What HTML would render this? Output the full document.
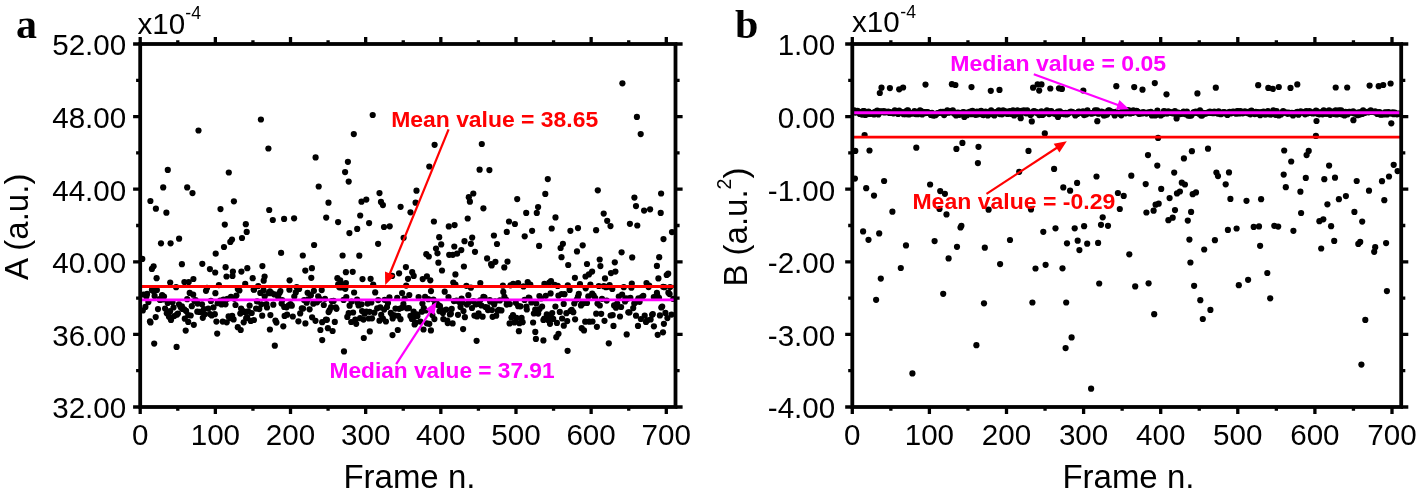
<!DOCTYPE html>
<html><head><meta charset="utf-8"><title>chart</title>
<style>html,body{margin:0;padding:0;background:#fff;}body{width:1419px;height:499px;overflow:hidden;}svg{display:block;will-change:transform;opacity:0.999;}text{font-family:"Liberation Sans",sans-serif;fill:#000;}.ser{font-family:"Liberation Serif",serif;font-weight:bold;}.tk{font-size:30.1px;}.ax{font-size:33px;}.an{font-size:22px;font-weight:bold;}</style>
</head><body>
<svg width="1419" height="499" viewBox="0 0 1419 499">
<rect x="0" y="0" width="1419" height="499" fill="#fff"/>
<clipPath id="ca"><rect x="140.2" y="44.0" width="535.3" height="363.0"/></clipPath>
<clipPath id="cb"><rect x="852.3" y="44.0" width="548.9" height="363.0"/></clipPath>
<g clip-path="url(#ca)"><g fill="#000"><circle cx="198.5" cy="130.5" r="3.10"/><circle cx="260.9" cy="119.5" r="3.10"/><circle cx="372.7" cy="115.0" r="3.10"/><circle cx="353.8" cy="134.1" r="3.10"/><circle cx="268.4" cy="148.5" r="3.10"/><circle cx="315.6" cy="157.4" r="3.10"/><circle cx="347.9" cy="161.8" r="3.10"/><circle cx="345.1" cy="172.1" r="3.10"/><circle cx="348.7" cy="181.6" r="3.10"/><circle cx="318.7" cy="186.5" r="3.10"/><circle cx="167.8" cy="169.9" r="3.10"/><circle cx="228.8" cy="172.5" r="3.10"/><circle cx="163.2" cy="187.4" r="3.10"/><circle cx="187.2" cy="187.4" r="3.10"/><circle cx="192.5" cy="193.1" r="3.10"/><circle cx="379.5" cy="193.1" r="3.10"/><circle cx="622.4" cy="83.3" r="3.10"/><circle cx="636.9" cy="116.9" r="3.10"/><circle cx="640.7" cy="134.1" r="3.10"/><circle cx="434.6" cy="144.8" r="3.10"/><circle cx="481.8" cy="144.0" r="3.10"/><circle cx="429.3" cy="166.5" r="3.10"/><circle cx="479.6" cy="169.7" r="3.10"/><circle cx="489.4" cy="170.1" r="3.10"/><circle cx="547.8" cy="179.1" r="3.10"/><circle cx="597.8" cy="190.3" r="3.10"/><circle cx="416.5" cy="190.7" r="3.10"/><circle cx="473.3" cy="193.5" r="3.10"/><circle cx="545.3" cy="193.9" r="3.10"/><circle cx="661.1" cy="193.5" r="3.10"/><circle cx="150.4" cy="201.0" r="3.10"/><circle cx="155.9" cy="208.7" r="3.10"/><circle cx="166.4" cy="212.7" r="3.10"/><circle cx="233.9" cy="201.3" r="3.10"/><circle cx="220.5" cy="209.1" r="3.10"/><circle cx="269.2" cy="210.0" r="3.10"/><circle cx="272.8" cy="220.0" r="3.10"/><circle cx="284.1" cy="218.9" r="3.10"/><circle cx="294.1" cy="218.3" r="3.10"/><circle cx="224.8" cy="224.6" r="3.10"/><circle cx="245.8" cy="224.2" r="3.10"/><circle cx="246.7" cy="231.9" r="3.10"/><circle cx="242.0" cy="238.0" r="3.10"/><circle cx="232.0" cy="239.5" r="3.10"/><circle cx="230.3" cy="241.9" r="3.10"/><circle cx="224.0" cy="247.0" r="3.10"/><circle cx="215.7" cy="253.6" r="3.10"/><circle cx="179.1" cy="238.7" r="3.10"/><circle cx="170.6" cy="243.3" r="3.10"/><circle cx="161.0" cy="243.3" r="3.10"/><circle cx="142.3" cy="258.9" r="3.10"/><circle cx="153.6" cy="266.3" r="3.10"/><circle cx="151.9" cy="268.9" r="3.10"/><circle cx="181.9" cy="264.2" r="3.10"/><circle cx="202.3" cy="263.8" r="3.10"/><circle cx="209.9" cy="269.1" r="3.10"/><circle cx="215.2" cy="272.5" r="3.10"/><circle cx="225.6" cy="267.2" r="3.10"/><circle cx="232.9" cy="271.6" r="3.10"/><circle cx="241.4" cy="271.6" r="3.10"/><circle cx="247.3" cy="268.2" r="3.10"/><circle cx="262.4" cy="266.1" r="3.10"/><circle cx="281.1" cy="252.9" r="3.10"/><circle cx="302.8" cy="255.5" r="3.10"/><circle cx="314.1" cy="245.0" r="3.10"/><circle cx="328.5" cy="202.7" r="3.10"/><circle cx="326.2" cy="217.6" r="3.10"/><circle cx="338.1" cy="222.1" r="3.10"/><circle cx="361.5" cy="201.7" r="3.10"/><circle cx="366.3" cy="199.6" r="3.10"/><circle cx="381.0" cy="201.9" r="3.10"/><circle cx="382.9" cy="205.1" r="3.10"/><circle cx="400.6" cy="206.8" r="3.10"/><circle cx="360.2" cy="215.5" r="3.10"/><circle cx="369.1" cy="223.1" r="3.10"/><circle cx="357.2" cy="228.9" r="3.10"/><circle cx="349.4" cy="233.1" r="3.10"/><circle cx="384.0" cy="227.0" r="3.10"/><circle cx="389.7" cy="226.3" r="3.10"/><circle cx="403.6" cy="237.8" r="3.10"/><circle cx="378.1" cy="243.8" r="3.10"/><circle cx="342.6" cy="255.5" r="3.10"/><circle cx="359.3" cy="255.7" r="3.10"/><circle cx="305.3" cy="270.6" r="3.10"/><circle cx="311.9" cy="268.2" r="3.10"/><circle cx="345.9" cy="272.2" r="3.10"/><circle cx="352.7" cy="271.8" r="3.10"/><circle cx="405.9" cy="267.1" r="3.10"/><circle cx="399.1" cy="273.3" r="3.10"/><circle cx="392.1" cy="275.9" r="3.10"/><circle cx="156.6" cy="278.2" r="3.10"/><circle cx="170.2" cy="282.5" r="3.10"/><circle cx="184.4" cy="282.0" r="3.10"/><circle cx="188.7" cy="282.0" r="3.10"/><circle cx="193.4" cy="279.0" r="3.10"/><circle cx="226.5" cy="276.5" r="3.10"/><circle cx="232.5" cy="275.9" r="3.10"/><circle cx="252.7" cy="278.2" r="3.10"/><circle cx="264.6" cy="276.5" r="3.10"/><circle cx="263.7" cy="280.7" r="3.10"/><circle cx="289.6" cy="280.3" r="3.10"/><circle cx="311.3" cy="277.8" r="3.10"/><circle cx="337.4" cy="278.2" r="3.10"/><circle cx="340.2" cy="280.3" r="3.10"/><circle cx="362.5" cy="279.1" r="3.10"/><circle cx="370.6" cy="278.8" r="3.10"/><circle cx="345.9" cy="283.1" r="3.10"/><circle cx="245.2" cy="283.9" r="3.10"/><circle cx="415.6" cy="202.7" r="3.10"/><circle cx="410.5" cy="212.3" r="3.10"/><circle cx="468.8" cy="197.2" r="3.10"/><circle cx="469.9" cy="201.7" r="3.10"/><circle cx="483.4" cy="208.3" r="3.10"/><circle cx="467.7" cy="218.5" r="3.10"/><circle cx="433.9" cy="221.5" r="3.10"/><circle cx="448.8" cy="226.4" r="3.10"/><circle cx="454.6" cy="225.1" r="3.10"/><circle cx="439.2" cy="237.2" r="3.10"/><circle cx="441.2" cy="244.4" r="3.10"/><circle cx="436.0" cy="248.5" r="3.10"/><circle cx="437.5" cy="253.3" r="3.10"/><circle cx="426.3" cy="254.2" r="3.10"/><circle cx="428.8" cy="256.5" r="3.10"/><circle cx="438.4" cy="262.7" r="3.10"/><circle cx="442.0" cy="270.5" r="3.10"/><circle cx="449.2" cy="254.8" r="3.10"/><circle cx="452.8" cy="254.8" r="3.10"/><circle cx="457.1" cy="253.6" r="3.10"/><circle cx="461.3" cy="250.1" r="3.10"/><circle cx="454.3" cy="246.5" r="3.10"/><circle cx="464.5" cy="241.2" r="3.10"/><circle cx="470.9" cy="243.8" r="3.10"/><circle cx="472.2" cy="237.6" r="3.10"/><circle cx="475.0" cy="251.8" r="3.10"/><circle cx="463.9" cy="266.5" r="3.10"/><circle cx="455.4" cy="274.4" r="3.10"/><circle cx="487.1" cy="258.4" r="3.10"/><circle cx="491.1" cy="264.0" r="3.10"/><circle cx="495.4" cy="261.8" r="3.10"/><circle cx="491.7" cy="265.5" r="3.10"/><circle cx="493.9" cy="235.5" r="3.10"/><circle cx="497.0" cy="244.0" r="3.10"/><circle cx="506.8" cy="231.9" r="3.10"/><circle cx="509.0" cy="221.5" r="3.10"/><circle cx="514.9" cy="224.0" r="3.10"/><circle cx="517.2" cy="199.1" r="3.10"/><circle cx="526.2" cy="212.9" r="3.10"/><circle cx="536.8" cy="212.9" r="3.10"/><circle cx="538.1" cy="207.0" r="3.10"/><circle cx="555.5" cy="217.4" r="3.10"/><circle cx="551.7" cy="228.5" r="3.10"/><circle cx="532.1" cy="230.8" r="3.10"/><circle cx="524.7" cy="236.3" r="3.10"/><circle cx="539.1" cy="245.9" r="3.10"/><circle cx="507.5" cy="261.6" r="3.10"/><circle cx="504.3" cy="267.4" r="3.10"/><circle cx="570.4" cy="230.8" r="3.10"/><circle cx="578.0" cy="228.1" r="3.10"/><circle cx="562.9" cy="243.8" r="3.10"/><circle cx="560.6" cy="248.0" r="3.10"/><circle cx="561.5" cy="257.2" r="3.10"/><circle cx="568.2" cy="265.0" r="3.10"/><circle cx="582.7" cy="245.3" r="3.10"/><circle cx="577.0" cy="251.4" r="3.10"/><circle cx="596.1" cy="230.2" r="3.10"/><circle cx="603.7" cy="213.6" r="3.10"/><circle cx="607.2" cy="220.8" r="3.10"/><circle cx="610.5" cy="226.1" r="3.10"/><circle cx="634.4" cy="197.6" r="3.10"/><circle cx="636.0" cy="206.1" r="3.10"/><circle cx="644.1" cy="210.6" r="3.10"/><circle cx="650.1" cy="209.3" r="3.10"/><circle cx="660.7" cy="212.9" r="3.10"/><circle cx="629.9" cy="223.8" r="3.10"/><circle cx="637.3" cy="225.5" r="3.10"/><circle cx="672.0" cy="232.1" r="3.10"/><circle cx="663.5" cy="239.1" r="3.10"/><circle cx="621.6" cy="252.3" r="3.10"/><circle cx="632.2" cy="257.4" r="3.10"/><circle cx="659.2" cy="257.2" r="3.10"/><circle cx="656.9" cy="265.9" r="3.10"/><circle cx="599.7" cy="259.5" r="3.10"/><circle cx="600.4" cy="266.1" r="3.10"/><circle cx="587.0" cy="264.0" r="3.10"/><circle cx="614.8" cy="262.3" r="3.10"/><circle cx="615.4" cy="271.6" r="3.10"/><circle cx="611.0" cy="273.1" r="3.10"/><circle cx="592.1" cy="271.6" r="3.10"/><circle cx="588.9" cy="274.4" r="3.10"/><circle cx="585.5" cy="276.5" r="3.10"/><circle cx="574.9" cy="277.8" r="3.10"/><circle cx="605.0" cy="278.4" r="3.10"/><circle cx="668.2" cy="273.7" r="3.10"/><circle cx="666.7" cy="275.0" r="3.10"/><circle cx="658.4" cy="278.4" r="3.10"/><circle cx="412.2" cy="272.2" r="3.10"/><circle cx="413.7" cy="275.9" r="3.10"/><circle cx="408.0" cy="278.8" r="3.10"/><circle cx="422.7" cy="279.1" r="3.10"/><circle cx="426.9" cy="276.3" r="3.10"/><circle cx="430.3" cy="280.3" r="3.10"/><circle cx="453.3" cy="282.5" r="3.10"/><circle cx="480.3" cy="283.1" r="3.10"/><circle cx="513.2" cy="283.9" r="3.10"/><circle cx="518.1" cy="283.1" r="3.10"/><circle cx="527.7" cy="282.0" r="3.10"/><circle cx="544.4" cy="283.9" r="3.10"/><circle cx="549.3" cy="282.5" r="3.10"/><circle cx="551.0" cy="281.0" r="3.10"/><circle cx="631.8" cy="283.5" r="3.10"/><circle cx="646.5" cy="283.1" r="3.10"/><circle cx="154.2" cy="343.6" r="3.10"/><circle cx="176.6" cy="346.9" r="3.10"/><circle cx="185.7" cy="330.6" r="3.10"/><circle cx="217.2" cy="333.6" r="3.10"/><circle cx="237.8" cy="327.2" r="3.10"/><circle cx="240.7" cy="330.0" r="3.10"/><circle cx="269.9" cy="329.5" r="3.10"/><circle cx="274.8" cy="345.7" r="3.10"/><circle cx="283.3" cy="326.3" r="3.10"/><circle cx="320.4" cy="330.0" r="3.10"/><circle cx="322.2" cy="340.1" r="3.10"/><circle cx="344.0" cy="351.4" r="3.10"/><circle cx="363.8" cy="338.0" r="3.10"/><circle cx="369.8" cy="331.4" r="3.10"/><circle cx="392.5" cy="335.1" r="3.10"/><circle cx="397.8" cy="330.0" r="3.10"/><circle cx="356.2" cy="323.8" r="3.10"/><circle cx="332.6" cy="331.0" r="3.10"/><circle cx="327.9" cy="328.2" r="3.10"/><circle cx="253.9" cy="320.0" r="3.10"/><circle cx="188.2" cy="321.9" r="3.10"/><circle cx="193.8" cy="324.8" r="3.10"/><circle cx="423.5" cy="329.5" r="3.10"/><circle cx="430.9" cy="330.4" r="3.10"/><circle cx="463.1" cy="329.1" r="3.10"/><circle cx="476.6" cy="340.8" r="3.10"/><circle cx="518.9" cy="331.2" r="3.10"/><circle cx="535.3" cy="331.9" r="3.10"/><circle cx="535.9" cy="338.9" r="3.10"/><circle cx="543.4" cy="340.4" r="3.10"/><circle cx="558.5" cy="333.8" r="3.10"/><circle cx="556.3" cy="337.2" r="3.10"/><circle cx="567.6" cy="350.8" r="3.10"/><circle cx="581.7" cy="328.2" r="3.10"/><circle cx="584.0" cy="330.4" r="3.10"/><circle cx="608.8" cy="343.3" r="3.10"/><circle cx="626.7" cy="334.4" r="3.10"/><circle cx="613.5" cy="325.9" r="3.10"/><circle cx="596.9" cy="326.8" r="3.10"/><circle cx="638.0" cy="325.9" r="3.10"/><circle cx="653.9" cy="326.3" r="3.10"/><circle cx="663.0" cy="332.3" r="3.10"/><circle cx="657.7" cy="334.8" r="3.10"/><circle cx="663.9" cy="323.8" r="3.10"/><circle cx="563.8" cy="325.7" r="3.10"/><circle cx="550.0" cy="323.8" r="3.10"/><circle cx="509.6" cy="323.4" r="3.10"/><circle cx="414.6" cy="324.4" r="3.10"/><circle cx="447.7" cy="323.1" r="3.10"/><circle cx="402.1" cy="293.1" r="3.10"/><circle cx="338.2" cy="284.3" r="3.10"/><circle cx="530.3" cy="284.6" r="3.10"/><circle cx="504.4" cy="296.9" r="3.10"/><circle cx="585.7" cy="288.3" r="3.10"/><circle cx="234.4" cy="298.8" r="3.10"/><circle cx="466.4" cy="285.8" r="3.10"/><circle cx="653.8" cy="297.0" r="3.10"/><circle cx="406.2" cy="285.6" r="3.10"/><circle cx="254.0" cy="289.7" r="3.10"/><circle cx="163.0" cy="299.5" r="3.10"/><circle cx="143.5" cy="294.5" r="3.10"/><circle cx="609.6" cy="285.2" r="3.10"/><circle cx="207.0" cy="287.9" r="3.10"/><circle cx="663.1" cy="286.8" r="3.10"/><circle cx="608.2" cy="286.7" r="3.10"/><circle cx="154.6" cy="295.9" r="3.10"/><circle cx="649.2" cy="285.5" r="3.10"/><circle cx="227.4" cy="298.8" r="3.10"/><circle cx="484.5" cy="297.3" r="3.10"/><circle cx="625.4" cy="298.4" r="3.10"/><circle cx="630.4" cy="297.8" r="3.10"/><circle cx="318.2" cy="296.4" r="3.10"/><circle cx="618.8" cy="296.6" r="3.10"/><circle cx="529.4" cy="298.2" r="3.10"/><circle cx="524.6" cy="299.9" r="3.10"/><circle cx="506.2" cy="299.9" r="3.10"/><circle cx="375.2" cy="292.4" r="3.10"/><circle cx="592.2" cy="293.7" r="3.10"/><circle cx="159.6" cy="299.0" r="3.10"/><circle cx="274.4" cy="294.4" r="3.10"/><circle cx="296.7" cy="287.2" r="3.10"/><circle cx="268.7" cy="293.2" r="3.10"/><circle cx="340.1" cy="284.4" r="3.10"/><circle cx="339.3" cy="287.3" r="3.10"/><circle cx="153.3" cy="290.9" r="3.10"/><circle cx="558.4" cy="295.7" r="3.10"/><circle cx="602.0" cy="298.8" r="3.10"/><circle cx="237.8" cy="289.0" r="3.10"/><circle cx="638.4" cy="298.3" r="3.10"/><circle cx="648.6" cy="287.1" r="3.10"/><circle cx="263.6" cy="290.3" r="3.10"/><circle cx="389.4" cy="297.3" r="3.10"/><circle cx="147.1" cy="293.9" r="3.10"/><circle cx="564.5" cy="294.2" r="3.10"/><circle cx="343.1" cy="284.8" r="3.10"/><circle cx="354.1" cy="292.5" r="3.10"/><circle cx="590.4" cy="284.7" r="3.10"/><circle cx="593.7" cy="295.6" r="3.10"/><circle cx="310.9" cy="295.2" r="3.10"/><circle cx="215.4" cy="293.2" r="3.10"/><circle cx="271.6" cy="293.2" r="3.10"/><circle cx="641.9" cy="297.0" r="3.10"/><circle cx="657.2" cy="294.9" r="3.10"/><circle cx="343.6" cy="299.9" r="3.10"/><circle cx="655.4" cy="297.4" r="3.10"/><circle cx="307.6" cy="292.8" r="3.10"/><circle cx="239.4" cy="290.5" r="3.10"/><circle cx="523.5" cy="286.4" r="3.10"/><circle cx="539.4" cy="296.1" r="3.10"/><circle cx="461.6" cy="298.5" r="3.10"/><circle cx="313.9" cy="290.8" r="3.10"/><circle cx="176.1" cy="287.2" r="3.10"/><circle cx="431.0" cy="291.1" r="3.10"/><circle cx="631.4" cy="287.7" r="3.10"/><circle cx="260.3" cy="292.9" r="3.10"/><circle cx="623.8" cy="287.2" r="3.10"/><circle cx="341.5" cy="287.4" r="3.10"/><circle cx="258.2" cy="286.1" r="3.10"/><circle cx="151.9" cy="289.9" r="3.10"/><circle cx="384.6" cy="299.8" r="3.10"/><circle cx="236.4" cy="295.5" r="3.10"/><circle cx="606.0" cy="287.2" r="3.10"/><circle cx="280.4" cy="291.1" r="3.10"/><circle cx="156.9" cy="290.1" r="3.10"/><circle cx="304.1" cy="300.0" r="3.10"/><circle cx="299.1" cy="288.9" r="3.10"/><circle cx="668.4" cy="292.7" r="3.10"/><circle cx="433.4" cy="299.5" r="3.10"/><circle cx="418.6" cy="297.1" r="3.10"/><circle cx="577.9" cy="296.9" r="3.10"/><circle cx="659.0" cy="297.8" r="3.10"/><circle cx="373.2" cy="284.5" r="3.10"/><circle cx="468.4" cy="295.2" r="3.10"/><circle cx="321.7" cy="290.1" r="3.10"/><circle cx="269.9" cy="291.3" r="3.10"/><circle cx="308.2" cy="299.3" r="3.10"/><circle cx="278.2" cy="297.1" r="3.10"/><circle cx="588.3" cy="296.4" r="3.10"/><circle cx="160.0" cy="299.9" r="3.10"/><circle cx="425.1" cy="296.9" r="3.10"/><circle cx="569.6" cy="289.9" r="3.10"/><circle cx="164.0" cy="296.6" r="3.10"/><circle cx="578.8" cy="293.9" r="3.10"/><circle cx="319.5" cy="298.9" r="3.10"/><circle cx="397.2" cy="297.9" r="3.10"/><circle cx="567.8" cy="285.3" r="3.10"/><circle cx="561.6" cy="294.0" r="3.10"/><circle cx="455.4" cy="284.6" r="3.10"/><circle cx="483.4" cy="296.9" r="3.10"/><circle cx="218.9" cy="285.1" r="3.10"/><circle cx="503.3" cy="291.9" r="3.10"/><circle cx="656.9" cy="292.9" r="3.10"/><circle cx="627.4" cy="298.7" r="3.10"/><circle cx="279.5" cy="293.1" r="3.10"/><circle cx="289.4" cy="289.7" r="3.10"/><circle cx="598.8" cy="286.0" r="3.10"/><circle cx="319.8" cy="299.8" r="3.10"/><circle cx="550.6" cy="293.4" r="3.10"/><circle cx="264.7" cy="296.4" r="3.10"/><circle cx="643.3" cy="295.8" r="3.10"/><circle cx="670.1" cy="287.1" r="3.10"/><circle cx="345.3" cy="288.8" r="3.10"/><circle cx="673.3" cy="298.9" r="3.10"/><circle cx="253.7" cy="289.5" r="3.10"/><circle cx="294.3" cy="296.6" r="3.10"/><circle cx="162.1" cy="295.0" r="3.10"/><circle cx="444.7" cy="291.7" r="3.10"/><circle cx="622.1" cy="294.5" r="3.10"/><circle cx="223.5" cy="299.6" r="3.10"/><circle cx="664.5" cy="287.2" r="3.10"/><circle cx="510.5" cy="285.3" r="3.10"/><circle cx="231.0" cy="296.9" r="3.10"/><circle cx="595.2" cy="298.0" r="3.10"/><circle cx="554.6" cy="284.9" r="3.10"/><circle cx="470.9" cy="287.7" r="3.10"/><circle cx="502.9" cy="285.7" r="3.10"/><circle cx="295.8" cy="292.4" r="3.10"/><circle cx="576.8" cy="299.6" r="3.10"/><circle cx="669.6" cy="294.1" r="3.10"/><circle cx="206.0" cy="290.8" r="3.10"/><circle cx="357.1" cy="299.6" r="3.10"/><circle cx="325.0" cy="298.8" r="3.10"/><circle cx="545.8" cy="295.8" r="3.10"/><circle cx="612.3" cy="289.0" r="3.10"/><circle cx="346.3" cy="297.0" r="3.10"/><circle cx="146.4" cy="296.4" r="3.10"/><circle cx="409.3" cy="295.0" r="3.10"/><circle cx="541.0" cy="298.4" r="3.10"/><circle cx="557.7" cy="285.9" r="3.10"/><circle cx="528.7" cy="297.6" r="3.10"/><circle cx="580.0" cy="284.1" r="3.10"/><circle cx="404.6" cy="298.6" r="3.10"/><circle cx="428.3" cy="299.2" r="3.10"/><circle cx="187.2" cy="299.2" r="3.10"/><circle cx="448.5" cy="297.1" r="3.10"/><circle cx="603.8" cy="286.2" r="3.10"/><circle cx="193.2" cy="294.7" r="3.10"/><circle cx="189.7" cy="292.9" r="3.10"/><circle cx="331.8" cy="301.1" r="3.10"/><circle cx="372.0" cy="318.3" r="3.10"/><circle cx="612.7" cy="315.1" r="3.10"/><circle cx="261.4" cy="304.3" r="3.10"/><circle cx="169.0" cy="316.7" r="3.10"/><circle cx="511.4" cy="317.6" r="3.10"/><circle cx="644.7" cy="315.7" r="3.10"/><circle cx="195.6" cy="300.0" r="3.10"/><circle cx="556.9" cy="322.9" r="3.10"/><circle cx="443.3" cy="319.1" r="3.10"/><circle cx="259.3" cy="309.1" r="3.10"/><circle cx="522.6" cy="322.2" r="3.10"/><circle cx="423.8" cy="308.0" r="3.10"/><circle cx="596.2" cy="313.7" r="3.10"/><circle cx="589.3" cy="321.7" r="3.10"/><circle cx="475.6" cy="304.4" r="3.10"/><circle cx="469.1" cy="302.0" r="3.10"/><circle cx="329.6" cy="310.2" r="3.10"/><circle cx="425.6" cy="310.5" r="3.10"/><circle cx="408.9" cy="308.1" r="3.10"/><circle cx="610.6" cy="315.5" r="3.10"/><circle cx="202.0" cy="304.3" r="3.10"/><circle cx="358.6" cy="305.4" r="3.10"/><circle cx="369.6" cy="311.8" r="3.10"/><circle cx="421.8" cy="311.7" r="3.10"/><circle cx="456.5" cy="300.6" r="3.10"/><circle cx="559.8" cy="311.9" r="3.10"/><circle cx="390.8" cy="312.9" r="3.10"/><circle cx="247.2" cy="317.0" r="3.10"/><circle cx="640.9" cy="319.0" r="3.10"/><circle cx="438.3" cy="305.2" r="3.10"/><circle cx="583.3" cy="303.3" r="3.10"/><circle cx="413.6" cy="311.6" r="3.10"/><circle cx="387.0" cy="306.9" r="3.10"/><circle cx="392.7" cy="318.4" r="3.10"/><circle cx="284.2" cy="306.9" r="3.10"/><circle cx="226.7" cy="322.3" r="3.10"/><circle cx="363.5" cy="319.6" r="3.10"/><circle cx="150.5" cy="322.4" r="3.10"/><circle cx="662.2" cy="306.6" r="3.10"/><circle cx="388.0" cy="303.0" r="3.10"/><circle cx="518.2" cy="306.2" r="3.10"/><circle cx="414.0" cy="316.9" r="3.10"/><circle cx="449.9" cy="314.4" r="3.10"/><circle cx="210.9" cy="300.9" r="3.10"/><circle cx="417.5" cy="316.1" r="3.10"/><circle cx="262.2" cy="315.7" r="3.10"/><circle cx="214.8" cy="314.2" r="3.10"/><circle cx="606.7" cy="300.6" r="3.10"/><circle cx="400.5" cy="319.2" r="3.10"/><circle cx="325.9" cy="319.7" r="3.10"/><circle cx="385.9" cy="321.5" r="3.10"/><circle cx="599.8" cy="305.5" r="3.10"/><circle cx="566.4" cy="313.2" r="3.10"/><circle cx="292.8" cy="316.5" r="3.10"/><circle cx="377.2" cy="308.3" r="3.10"/><circle cx="543.4" cy="320.0" r="3.10"/><circle cx="303.1" cy="308.6" r="3.10"/><circle cx="210.0" cy="314.0" r="3.10"/><circle cx="533.1" cy="322.5" r="3.10"/><circle cx="249.6" cy="305.6" r="3.10"/><circle cx="495.1" cy="301.4" r="3.10"/><circle cx="435.0" cy="304.3" r="3.10"/><circle cx="535.2" cy="309.7" r="3.10"/><circle cx="519.4" cy="323.2" r="3.10"/><circle cx="351.6" cy="301.5" r="3.10"/><circle cx="629.4" cy="312.4" r="3.10"/><circle cx="335.7" cy="307.3" r="3.10"/><circle cx="442.9" cy="313.1" r="3.10"/><circle cx="459.3" cy="302.1" r="3.10"/><circle cx="498.8" cy="309.9" r="3.10"/><circle cx="536.3" cy="303.5" r="3.10"/><circle cx="306.6" cy="302.7" r="3.10"/><circle cx="349.6" cy="305.7" r="3.10"/><circle cx="604.5" cy="320.8" r="3.10"/><circle cx="585.2" cy="321.7" r="3.10"/><circle cx="301.8" cy="308.3" r="3.10"/><circle cx="452.6" cy="323.4" r="3.10"/><circle cx="148.4" cy="302.1" r="3.10"/><circle cx="298.4" cy="321.3" r="3.10"/><circle cx="513.0" cy="315.2" r="3.10"/><circle cx="538.2" cy="313.6" r="3.10"/><circle cx="501.4" cy="310.4" r="3.10"/><circle cx="542.1" cy="306.5" r="3.10"/><circle cx="221.6" cy="304.5" r="3.10"/><circle cx="617.2" cy="303.6" r="3.10"/><circle cx="244.7" cy="311.9" r="3.10"/><circle cx="367.6" cy="303.6" r="3.10"/><circle cx="453.9" cy="301.1" r="3.10"/><circle cx="446.2" cy="309.6" r="3.10"/><circle cx="167.7" cy="302.9" r="3.10"/><circle cx="235.5" cy="305.0" r="3.10"/><circle cx="650.6" cy="319.5" r="3.10"/><circle cx="286.6" cy="307.3" r="3.10"/><circle cx="548.0" cy="319.9" r="3.10"/><circle cx="581.9" cy="303.6" r="3.10"/><circle cx="647.4" cy="320.3" r="3.10"/><circle cx="659.9" cy="315.4" r="3.10"/><circle cx="480.2" cy="300.3" r="3.10"/><circle cx="284.6" cy="315.9" r="3.10"/><circle cx="555.4" cy="306.5" r="3.10"/><circle cx="323.8" cy="305.0" r="3.10"/><circle cx="246.2" cy="318.2" r="3.10"/><circle cx="429.3" cy="323.8" r="3.10"/><circle cx="477.1" cy="316.5" r="3.10"/><circle cx="333.6" cy="300.9" r="3.10"/><circle cx="232.2" cy="315.8" r="3.10"/><circle cx="368.8" cy="318.5" r="3.10"/><circle cx="460.5" cy="307.1" r="3.10"/><circle cx="184.8" cy="318.7" r="3.10"/><circle cx="158.0" cy="309.1" r="3.10"/><circle cx="361.6" cy="304.3" r="3.10"/><circle cx="202.8" cy="317.8" r="3.10"/><circle cx="638.0" cy="300.7" r="3.10"/><circle cx="142.8" cy="310.5" r="3.10"/><circle cx="614.1" cy="305.4" r="3.10"/><circle cx="173.5" cy="307.5" r="3.10"/><circle cx="616.0" cy="307.7" r="3.10"/><circle cx="208.3" cy="308.6" r="3.10"/><circle cx="240.3" cy="313.6" r="3.10"/><circle cx="406.9" cy="308.3" r="3.10"/><circle cx="267.0" cy="307.5" r="3.10"/><circle cx="182.3" cy="308.9" r="3.10"/><circle cx="257.0" cy="301.4" r="3.10"/><circle cx="539.6" cy="309.0" r="3.10"/><circle cx="526.4" cy="306.6" r="3.10"/><circle cx="432.4" cy="315.0" r="3.10"/><circle cx="204.8" cy="314.3" r="3.10"/><circle cx="379.5" cy="320.7" r="3.10"/><circle cx="382.9" cy="318.6" r="3.10"/><circle cx="516.4" cy="317.9" r="3.10"/><circle cx="515.8" cy="302.8" r="3.10"/><circle cx="546.8" cy="314.3" r="3.10"/><circle cx="174.2" cy="316.1" r="3.10"/><circle cx="451.7" cy="308.9" r="3.10"/><circle cx="217.7" cy="303.2" r="3.10"/><circle cx="334.8" cy="321.9" r="3.10"/><circle cx="364.6" cy="313.7" r="3.10"/><circle cx="463.5" cy="311.1" r="3.10"/><circle cx="567.2" cy="321.1" r="3.10"/><circle cx="230.3" cy="318.2" r="3.10"/><circle cx="145.4" cy="306.9" r="3.10"/><circle cx="312.1" cy="317.3" r="3.10"/><circle cx="300.2" cy="313.4" r="3.10"/><circle cx="251.7" cy="313.0" r="3.10"/><circle cx="434.4" cy="319.1" r="3.10"/><circle cx="150.0" cy="321.3" r="3.10"/><circle cx="282.2" cy="300.0" r="3.10"/><circle cx="497.7" cy="310.8" r="3.10"/><circle cx="496.2" cy="315.7" r="3.10"/><circle cx="248.1" cy="311.4" r="3.10"/><circle cx="191.8" cy="306.2" r="3.10"/><circle cx="563.7" cy="303.9" r="3.10"/><circle cx="281.6" cy="303.6" r="3.10"/><circle cx="371.3" cy="302.4" r="3.10"/><circle cx="357.5" cy="302.6" r="3.10"/><circle cx="392.3" cy="315.2" r="3.10"/><circle cx="506.7" cy="304.6" r="3.10"/><circle cx="571.7" cy="309.8" r="3.10"/><circle cx="401.8" cy="307.8" r="3.10"/><circle cx="225.5" cy="304.3" r="3.10"/><circle cx="309.6" cy="309.3" r="3.10"/><circle cx="473.4" cy="301.0" r="3.10"/><circle cx="384.2" cy="309.6" r="3.10"/><circle cx="574.3" cy="303.5" r="3.10"/><circle cx="243.0" cy="311.2" r="3.10"/><circle cx="581.0" cy="305.4" r="3.10"/><circle cx="549.8" cy="315.6" r="3.10"/><circle cx="378.2" cy="300.1" r="3.10"/><circle cx="633.2" cy="308.1" r="3.10"/><circle cx="290.5" cy="304.0" r="3.10"/><circle cx="220.2" cy="300.7" r="3.10"/><circle cx="573.3" cy="312.2" r="3.10"/><circle cx="273.3" cy="304.7" r="3.10"/><circle cx="601.2" cy="313.8" r="3.10"/><circle cx="439.5" cy="311.2" r="3.10"/><circle cx="211.7" cy="315.4" r="3.10"/><circle cx="509.8" cy="304.1" r="3.10"/><circle cx="243.7" cy="322.3" r="3.10"/><circle cx="355.3" cy="319.6" r="3.10"/><circle cx="420.4" cy="321.6" r="3.10"/><circle cx="155.7" cy="317.1" r="3.10"/><circle cx="351.2" cy="322.0" r="3.10"/><circle cx="374.4" cy="312.7" r="3.10"/><circle cx="313.3" cy="303.7" r="3.10"/><circle cx="410.4" cy="315.9" r="3.10"/><circle cx="635.7" cy="301.9" r="3.10"/><circle cx="531.4" cy="302.5" r="3.10"/><circle cx="328.6" cy="312.1" r="3.10"/><circle cx="665.4" cy="312.9" r="3.10"/><circle cx="181.9" cy="306.4" r="3.10"/><circle cx="426.8" cy="323.3" r="3.10"/><circle cx="305.4" cy="323.4" r="3.10"/><circle cx="197.6" cy="303.6" r="3.10"/><circle cx="652.1" cy="314.8" r="3.10"/><circle cx="416.8" cy="314.4" r="3.10"/><circle cx="490.3" cy="301.7" r="3.10"/><circle cx="597.5" cy="303.6" r="3.10"/><circle cx="499.9" cy="300.4" r="3.10"/><circle cx="353.1" cy="312.5" r="3.10"/><circle cx="347.3" cy="316.9" r="3.10"/><circle cx="592.5" cy="321.5" r="3.10"/><circle cx="487.5" cy="307.6" r="3.10"/><circle cx="628.3" cy="312.3" r="3.10"/><circle cx="188.2" cy="315.1" r="3.10"/><circle cx="544.3" cy="318.6" r="3.10"/><circle cx="166.8" cy="313.3" r="3.10"/><circle cx="395.5" cy="308.6" r="3.10"/><circle cx="436.6" cy="303.2" r="3.10"/><circle cx="671.5" cy="314.6" r="3.10"/><circle cx="575.1" cy="319.3" r="3.10"/><circle cx="241.1" cy="308.7" r="3.10"/><circle cx="625.0" cy="301.4" r="3.10"/><circle cx="450.9" cy="313.8" r="3.10"/><circle cx="621.1" cy="307.0" r="3.10"/><circle cx="667.4" cy="318.1" r="3.10"/><circle cx="508.1" cy="303.6" r="3.10"/><circle cx="315.5" cy="320.8" r="3.10"/><circle cx="411.9" cy="319.0" r="3.10"/><circle cx="348.7" cy="313.2" r="3.10"/><circle cx="440.0" cy="306.1" r="3.10"/><circle cx="458.0" cy="314.8" r="3.10"/><circle cx="587.0" cy="303.0" r="3.10"/><circle cx="488.0" cy="310.1" r="3.10"/><circle cx="190.7" cy="315.5" r="3.10"/><circle cx="288.7" cy="305.3" r="3.10"/><circle cx="562.1" cy="318.5" r="3.10"/><circle cx="615.3" cy="305.7" r="3.10"/><circle cx="291.8" cy="305.7" r="3.10"/><circle cx="322.2" cy="322.2" r="3.10"/><circle cx="360.1" cy="318.2" r="3.10"/><circle cx="415.7" cy="322.7" r="3.10"/><circle cx="634.3" cy="303.4" r="3.10"/><circle cx="422.4" cy="303.6" r="3.10"/><circle cx="331.1" cy="307.0" r="3.10"/><circle cx="399.2" cy="308.8" r="3.10"/><circle cx="462.6" cy="302.5" r="3.10"/><circle cx="552.2" cy="313.0" r="3.10"/><circle cx="441.6" cy="310.0" r="3.10"/><circle cx="266.4" cy="304.0" r="3.10"/><circle cx="514.4" cy="322.5" r="3.10"/><circle cx="646.0" cy="321.9" r="3.10"/><circle cx="481.4" cy="305.5" r="3.10"/><circle cx="180.7" cy="307.3" r="3.10"/><circle cx="570.4" cy="311.0" r="3.10"/><circle cx="472.0" cy="308.0" r="3.10"/><circle cx="200.8" cy="311.8" r="3.10"/><circle cx="366.4" cy="311.5" r="3.10"/><circle cx="256.1" cy="308.6" r="3.10"/><circle cx="526.8" cy="309.5" r="3.10"/><circle cx="620.0" cy="316.5" r="3.10"/><circle cx="491.9" cy="310.1" r="3.10"/><circle cx="204.0" cy="309.0" r="3.10"/><circle cx="250.8" cy="320.9" r="3.10"/><circle cx="553.2" cy="318.9" r="3.10"/><circle cx="478.6" cy="313.3" r="3.10"/><circle cx="326.9" cy="319.8" r="3.10"/><circle cx="485.5" cy="307.0" r="3.10"/><circle cx="213.5" cy="307.4" r="3.10"/><circle cx="466.9" cy="304.6" r="3.10"/><circle cx="228.6" cy="316.4" r="3.10"/><circle cx="652.8" cy="314.0" r="3.10"/><circle cx="317.0" cy="302.3" r="3.10"/><circle cx="222.7" cy="321.6" r="3.10"/><circle cx="478.3" cy="304.0" r="3.10"/><circle cx="170.1" cy="311.2" r="3.10"/><circle cx="275.4" cy="320.5" r="3.10"/><circle cx="172.5" cy="302.2" r="3.10"/><circle cx="381.2" cy="314.9" r="3.10"/><circle cx="494.2" cy="304.4" r="3.10"/><circle cx="489.8" cy="300.0" r="3.10"/><circle cx="179.0" cy="304.3" r="3.10"/><circle cx="661.3" cy="307.5" r="3.10"/><circle cx="520.5" cy="306.3" r="3.10"/><circle cx="521.6" cy="317.9" r="3.10"/><circle cx="276.4" cy="322.6" r="3.10"/><circle cx="216.4" cy="321.6" r="3.10"/><circle cx="482.6" cy="316.7" r="3.10"/><circle cx="639.6" cy="301.8" r="3.10"/><circle cx="177.9" cy="313.6" r="3.10"/><circle cx="398.2" cy="315.8" r="3.10"/><circle cx="474.4" cy="315.6" r="3.10"/><circle cx="197.3" cy="311.7" r="3.10"/><circle cx="287.1" cy="314.7" r="3.10"/><circle cx="184.2" cy="309.3" r="3.10"/><circle cx="394.4" cy="315.4" r="3.10"/><circle cx="403.4" cy="304.1" r="3.10"/><circle cx="194.5" cy="301.0" r="3.10"/><circle cx="165.1" cy="308.6" r="3.10"/><circle cx="270.4" cy="315.1" r="3.10"/><circle cx="447.3" cy="320.5" r="3.10"/><circle cx="176.8" cy="314.7" r="3.10"/><circle cx="492.6" cy="316.8" r="3.10"/><circle cx="362.1" cy="311.1" r="3.10"/><circle cx="199.6" cy="311.9" r="3.10"/><circle cx="464.9" cy="317.2" r="3.10"/><circle cx="636.0" cy="315.7" r="3.10"/><circle cx="186.1" cy="310.9" r="3.10"/><circle cx="171.0" cy="319.9" r="3.10"/><circle cx="533.9" cy="313.5" r="3.10"/><circle cx="380.3" cy="307.4" r="3.10"/><circle cx="233.6" cy="319.4" r="3.10"/><circle cx="336.5" cy="308.8" r="3.10"/></g></g>
<g clip-path="url(#cb)"><g fill="#000"><circle cx="881.5" cy="87.7" r="3.10"/><circle cx="879.8" cy="93.0" r="3.10"/><circle cx="889.9" cy="88.1" r="3.10"/><circle cx="899.2" cy="89.3" r="3.10"/><circle cx="903.1" cy="87.5" r="3.10"/><circle cx="925.5" cy="84.6" r="3.10"/><circle cx="951.9" cy="84.2" r="3.10"/><circle cx="955.4" cy="85.0" r="3.10"/><circle cx="971.5" cy="87.1" r="3.10"/><circle cx="990.8" cy="90.8" r="3.10"/><circle cx="999.5" cy="89.9" r="3.10"/><circle cx="1033.1" cy="87.7" r="3.10"/><circle cx="1037.6" cy="84.4" r="3.10"/><circle cx="1041.5" cy="84.4" r="3.10"/><circle cx="1039.2" cy="90.6" r="3.10"/><circle cx="1050.3" cy="88.5" r="3.10"/><circle cx="1059.0" cy="88.3" r="3.10"/><circle cx="1061.9" cy="88.9" r="3.10"/><circle cx="1083.3" cy="90.5" r="3.10"/><circle cx="1116.3" cy="86.2" r="3.10"/><circle cx="1020.7" cy="118.2" r="3.10"/><circle cx="1031.8" cy="121.4" r="3.10"/><circle cx="1097.3" cy="121.2" r="3.10"/><circle cx="1058.0" cy="116.9" r="3.10"/><circle cx="964.3" cy="116.9" r="3.10"/><circle cx="864.6" cy="135.0" r="3.10"/><circle cx="1044.8" cy="133.4" r="3.10"/><circle cx="1134.2" cy="87.1" r="3.10"/><circle cx="1142.5" cy="89.7" r="3.10"/><circle cx="1154.8" cy="83.1" r="3.10"/><circle cx="1166.5" cy="94.3" r="3.10"/><circle cx="1197.4" cy="93.4" r="3.10"/><circle cx="1215.8" cy="87.7" r="3.10"/><circle cx="1258.2" cy="85.2" r="3.10"/><circle cx="1268.3" cy="87.9" r="3.10"/><circle cx="1272.8" cy="88.9" r="3.10"/><circle cx="1278.8" cy="87.0" r="3.10"/><circle cx="1290.5" cy="87.9" r="3.10"/><circle cx="1297.3" cy="84.4" r="3.10"/><circle cx="1335.7" cy="87.5" r="3.10"/><circle cx="1347.2" cy="87.5" r="3.10"/><circle cx="1369.6" cy="85.6" r="3.10"/><circle cx="1378.7" cy="86.2" r="3.10"/><circle cx="1383.2" cy="85.0" r="3.10"/><circle cx="1390.6" cy="83.5" r="3.10"/><circle cx="1176.6" cy="118.4" r="3.10"/><circle cx="1316.5" cy="121.0" r="3.10"/><circle cx="1353.4" cy="120.2" r="3.10"/><circle cx="1391.3" cy="123.3" r="3.10"/><circle cx="1158.1" cy="137.9" r="3.10"/><circle cx="1315.9" cy="135.9" r="3.10"/><circle cx="855.3" cy="150.9" r="3.10"/><circle cx="869.5" cy="150.5" r="3.10"/><circle cx="916.3" cy="147.7" r="3.10"/><circle cx="956.4" cy="148.9" r="3.10"/><circle cx="962.4" cy="142.9" r="3.10"/><circle cx="978.5" cy="146.8" r="3.10"/><circle cx="977.9" cy="163.1" r="3.10"/><circle cx="1028.5" cy="150.9" r="3.10"/><circle cx="1019.2" cy="171.8" r="3.10"/><circle cx="1054.1" cy="168.9" r="3.10"/><circle cx="854.9" cy="178.6" r="3.10"/><circle cx="884.1" cy="181.0" r="3.10"/><circle cx="866.2" cy="188.2" r="3.10"/><circle cx="874.0" cy="195.6" r="3.10"/><circle cx="892.4" cy="211.7" r="3.10"/><circle cx="930.1" cy="184.5" r="3.10"/><circle cx="940.2" cy="191.1" r="3.10"/><circle cx="944.9" cy="193.8" r="3.10"/><circle cx="939.5" cy="209.0" r="3.10"/><circle cx="946.5" cy="214.4" r="3.10"/><circle cx="988.6" cy="209.7" r="3.10"/><circle cx="1031.0" cy="209.4" r="3.10"/><circle cx="1063.3" cy="187.4" r="3.10"/><circle cx="1070.1" cy="190.7" r="3.10"/><circle cx="1077.1" cy="182.9" r="3.10"/><circle cx="1096.5" cy="176.5" r="3.10"/><circle cx="1117.9" cy="193.0" r="3.10"/><circle cx="1123.7" cy="195.9" r="3.10"/><circle cx="1119.8" cy="209.0" r="3.10"/><circle cx="1102.7" cy="217.3" r="3.10"/><circle cx="1148.0" cy="155.1" r="3.10"/><circle cx="1157.3" cy="165.6" r="3.10"/><circle cx="1131.3" cy="175.7" r="3.10"/><circle cx="1145.7" cy="184.1" r="3.10"/><circle cx="1161.2" cy="188.9" r="3.10"/><circle cx="1174.2" cy="172.6" r="3.10"/><circle cx="1183.9" cy="158.4" r="3.10"/><circle cx="1191.9" cy="151.2" r="3.10"/><circle cx="1208.0" cy="148.7" r="3.10"/><circle cx="1181.8" cy="182.7" r="3.10"/><circle cx="1184.9" cy="184.5" r="3.10"/><circle cx="1179.9" cy="191.5" r="3.10"/><circle cx="1177.0" cy="193.4" r="3.10"/><circle cx="1196.0" cy="192.4" r="3.10"/><circle cx="1192.7" cy="194.2" r="3.10"/><circle cx="1169.6" cy="198.1" r="3.10"/><circle cx="1158.7" cy="203.7" r="3.10"/><circle cx="1155.6" cy="204.7" r="3.10"/><circle cx="1153.6" cy="210.7" r="3.10"/><circle cx="1146.4" cy="212.5" r="3.10"/><circle cx="1175.0" cy="210.1" r="3.10"/><circle cx="1191.1" cy="211.9" r="3.10"/><circle cx="1172.7" cy="217.7" r="3.10"/><circle cx="1168.4" cy="220.2" r="3.10"/><circle cx="1187.8" cy="220.6" r="3.10"/><circle cx="1216.4" cy="172.6" r="3.10"/><circle cx="1218.0" cy="176.1" r="3.10"/><circle cx="1229.0" cy="172.4" r="3.10"/><circle cx="1225.7" cy="184.3" r="3.10"/><circle cx="1230.4" cy="198.9" r="3.10"/><circle cx="1246.5" cy="200.8" r="3.10"/><circle cx="1261.1" cy="199.2" r="3.10"/><circle cx="1284.2" cy="150.5" r="3.10"/><circle cx="1291.2" cy="161.5" r="3.10"/><circle cx="1283.7" cy="174.6" r="3.10"/><circle cx="1285.8" cy="187.2" r="3.10"/><circle cx="1308.7" cy="150.9" r="3.10"/><circle cx="1306.6" cy="155.1" r="3.10"/><circle cx="1305.8" cy="177.9" r="3.10"/><circle cx="1300.4" cy="191.7" r="3.10"/><circle cx="1301.1" cy="213.0" r="3.10"/><circle cx="1329.1" cy="165.6" r="3.10"/><circle cx="1324.3" cy="179.2" r="3.10"/><circle cx="1335.0" cy="177.7" r="3.10"/><circle cx="1327.4" cy="204.3" r="3.10"/><circle cx="1338.9" cy="199.2" r="3.10"/><circle cx="1345.9" cy="196.1" r="3.10"/><circle cx="1356.7" cy="181.0" r="3.10"/><circle cx="1354.4" cy="211.9" r="3.10"/><circle cx="1369.0" cy="190.7" r="3.10"/><circle cx="1382.0" cy="181.2" r="3.10"/><circle cx="1389.0" cy="176.5" r="3.10"/><circle cx="1393.7" cy="164.8" r="3.10"/><circle cx="1397.6" cy="171.1" r="3.10"/><circle cx="1384.3" cy="200.2" r="3.10"/><circle cx="1323.3" cy="219.3" r="3.10"/><circle cx="1319.4" cy="221.2" r="3.10"/><circle cx="1362.2" cy="221.6" r="3.10"/><circle cx="863.1" cy="231.4" r="3.10"/><circle cx="868.5" cy="239.8" r="3.10"/><circle cx="879.2" cy="233.4" r="3.10"/><circle cx="906.0" cy="245.4" r="3.10"/><circle cx="900.8" cy="268.0" r="3.10"/><circle cx="880.8" cy="278.6" r="3.10"/><circle cx="876.1" cy="299.8" r="3.10"/><circle cx="934.6" cy="241.1" r="3.10"/><circle cx="948.6" cy="258.4" r="3.10"/><circle cx="943.2" cy="293.8" r="3.10"/><circle cx="957.0" cy="246.8" r="3.10"/><circle cx="961.4" cy="225.8" r="3.10"/><circle cx="960.5" cy="227.5" r="3.10"/><circle cx="984.8" cy="247.7" r="3.10"/><circle cx="1000.1" cy="264.1" r="3.10"/><circle cx="1010.0" cy="240.0" r="3.10"/><circle cx="984.0" cy="303.3" r="3.10"/><circle cx="1032.4" cy="302.5" r="3.10"/><circle cx="1035.5" cy="268.5" r="3.10"/><circle cx="1045.6" cy="264.8" r="3.10"/><circle cx="1043.3" cy="231.8" r="3.10"/><circle cx="1055.5" cy="228.3" r="3.10"/><circle cx="1062.5" cy="268.3" r="3.10"/><circle cx="1066.2" cy="302.5" r="3.10"/><circle cx="1067.0" cy="243.3" r="3.10"/><circle cx="1074.7" cy="228.3" r="3.10"/><circle cx="1077.7" cy="240.7" r="3.10"/><circle cx="1079.4" cy="250.1" r="3.10"/><circle cx="1084.1" cy="226.2" r="3.10"/><circle cx="1087.2" cy="243.7" r="3.10"/><circle cx="1098.1" cy="242.9" r="3.10"/><circle cx="1101.0" cy="224.8" r="3.10"/><circle cx="1108.0" cy="225.8" r="3.10"/><circle cx="1099.2" cy="283.5" r="3.10"/><circle cx="1189.4" cy="239.6" r="3.10"/><circle cx="1190.4" cy="262.5" r="3.10"/><circle cx="1194.1" cy="285.8" r="3.10"/><circle cx="1200.3" cy="300.2" r="3.10"/><circle cx="1210.4" cy="309.9" r="3.10"/><circle cx="1154.2" cy="314.2" r="3.10"/><circle cx="1135.2" cy="286.4" r="3.10"/><circle cx="1148.6" cy="283.3" r="3.10"/><circle cx="1129.3" cy="254.3" r="3.10"/><circle cx="1204.2" cy="249.5" r="3.10"/><circle cx="1214.9" cy="240.2" r="3.10"/><circle cx="1227.9" cy="229.9" r="3.10"/><circle cx="1236.6" cy="228.5" r="3.10"/><circle cx="1253.7" cy="226.9" r="3.10"/><circle cx="1259.0" cy="226.4" r="3.10"/><circle cx="1274.3" cy="225.8" r="3.10"/><circle cx="1278.2" cy="226.6" r="3.10"/><circle cx="1293.4" cy="230.8" r="3.10"/><circle cx="1260.1" cy="245.8" r="3.10"/><circle cx="1267.3" cy="273.0" r="3.10"/><circle cx="1248.1" cy="279.8" r="3.10"/><circle cx="1238.8" cy="285.2" r="3.10"/><circle cx="1270.2" cy="298.3" r="3.10"/><circle cx="1331.1" cy="226.2" r="3.10"/><circle cx="1334.2" cy="240.9" r="3.10"/><circle cx="1321.2" cy="248.5" r="3.10"/><circle cx="1360.2" cy="241.9" r="3.10"/><circle cx="1358.3" cy="243.9" r="3.10"/><circle cx="1375.2" cy="247.2" r="3.10"/><circle cx="1374.2" cy="251.8" r="3.10"/><circle cx="1386.1" cy="243.1" r="3.10"/><circle cx="1386.9" cy="291.1" r="3.10"/><circle cx="912.4" cy="373.4" r="3.10"/><circle cx="976.4" cy="345.2" r="3.10"/><circle cx="1071.6" cy="337.4" r="3.10"/><circle cx="1065.6" cy="348.1" r="3.10"/><circle cx="1091.1" cy="388.7" r="3.10"/><circle cx="1202.8" cy="319.0" r="3.10"/><circle cx="1365.3" cy="319.9" r="3.10"/><circle cx="1361.4" cy="364.6" r="3.10"/><circle cx="854.3" cy="110.4" r="3.10"/><circle cx="855.4" cy="112.6" r="3.10"/><circle cx="856.5" cy="111.4" r="3.10"/><circle cx="857.6" cy="110.8" r="3.10"/><circle cx="858.7" cy="112.2" r="3.10"/><circle cx="859.8" cy="113.9" r="3.10"/><circle cx="860.9" cy="112.2" r="3.10"/><circle cx="862.0" cy="114.6" r="3.10"/><circle cx="863.1" cy="111.2" r="3.10"/><circle cx="864.2" cy="111.0" r="3.10"/><circle cx="865.3" cy="115.0" r="3.10"/><circle cx="866.4" cy="113.4" r="3.10"/><circle cx="867.5" cy="114.1" r="3.10"/><circle cx="868.6" cy="111.6" r="3.10"/><circle cx="869.7" cy="113.9" r="3.10"/><circle cx="870.8" cy="113.2" r="3.10"/><circle cx="871.9" cy="113.7" r="3.10"/><circle cx="872.9" cy="112.8" r="3.10"/><circle cx="874.0" cy="114.5" r="3.10"/><circle cx="875.1" cy="111.9" r="3.10"/><circle cx="876.2" cy="111.5" r="3.10"/><circle cx="877.3" cy="110.7" r="3.10"/><circle cx="878.4" cy="114.4" r="3.10"/><circle cx="879.5" cy="111.8" r="3.10"/><circle cx="880.6" cy="111.3" r="3.10"/><circle cx="881.7" cy="111.5" r="3.10"/><circle cx="882.8" cy="112.2" r="3.10"/><circle cx="883.9" cy="111.0" r="3.10"/><circle cx="885.0" cy="112.4" r="3.10"/><circle cx="886.1" cy="111.9" r="3.10"/><circle cx="887.2" cy="112.0" r="3.10"/><circle cx="888.3" cy="111.5" r="3.10"/><circle cx="889.4" cy="112.9" r="3.10"/><circle cx="890.4" cy="112.2" r="3.10"/><circle cx="891.5" cy="113.0" r="3.10"/><circle cx="892.6" cy="113.1" r="3.10"/><circle cx="893.7" cy="113.3" r="3.10"/><circle cx="894.8" cy="110.4" r="3.10"/><circle cx="895.9" cy="112.1" r="3.10"/><circle cx="897.0" cy="111.7" r="3.10"/><circle cx="898.1" cy="113.9" r="3.10"/><circle cx="899.2" cy="110.6" r="3.10"/><circle cx="900.3" cy="111.8" r="3.10"/><circle cx="901.4" cy="112.4" r="3.10"/><circle cx="902.5" cy="112.3" r="3.10"/><circle cx="903.6" cy="114.2" r="3.10"/><circle cx="904.7" cy="112.2" r="3.10"/><circle cx="905.8" cy="114.2" r="3.10"/><circle cx="906.9" cy="110.7" r="3.10"/><circle cx="908.0" cy="110.4" r="3.10"/><circle cx="909.0" cy="114.5" r="3.10"/><circle cx="910.1" cy="113.4" r="3.10"/><circle cx="911.2" cy="113.5" r="3.10"/><circle cx="912.3" cy="113.0" r="3.10"/><circle cx="913.4" cy="113.5" r="3.10"/><circle cx="914.5" cy="111.1" r="3.10"/><circle cx="915.6" cy="114.1" r="3.10"/><circle cx="916.7" cy="112.1" r="3.10"/><circle cx="917.8" cy="114.2" r="3.10"/><circle cx="918.9" cy="112.9" r="3.10"/><circle cx="920.0" cy="110.4" r="3.10"/><circle cx="921.1" cy="111.0" r="3.10"/><circle cx="922.2" cy="114.4" r="3.10"/><circle cx="923.3" cy="112.6" r="3.10"/><circle cx="924.4" cy="112.2" r="3.10"/><circle cx="925.5" cy="113.1" r="3.10"/><circle cx="926.6" cy="112.2" r="3.10"/><circle cx="927.6" cy="112.0" r="3.10"/><circle cx="928.7" cy="112.9" r="3.10"/><circle cx="929.8" cy="113.0" r="3.10"/><circle cx="930.9" cy="114.9" r="3.10"/><circle cx="932.0" cy="112.9" r="3.10"/><circle cx="933.1" cy="115.4" r="3.10"/><circle cx="934.2" cy="115.3" r="3.10"/><circle cx="935.3" cy="115.2" r="3.10"/><circle cx="936.4" cy="114.3" r="3.10"/><circle cx="937.5" cy="113.0" r="3.10"/><circle cx="938.6" cy="113.0" r="3.10"/><circle cx="939.7" cy="112.6" r="3.10"/><circle cx="940.8" cy="111.8" r="3.10"/><circle cx="941.9" cy="112.7" r="3.10"/><circle cx="943.0" cy="111.9" r="3.10"/><circle cx="944.1" cy="115.1" r="3.10"/><circle cx="945.1" cy="113.5" r="3.10"/><circle cx="946.2" cy="112.2" r="3.10"/><circle cx="947.3" cy="110.4" r="3.10"/><circle cx="948.4" cy="112.7" r="3.10"/><circle cx="949.5" cy="112.2" r="3.10"/><circle cx="950.6" cy="111.3" r="3.10"/><circle cx="951.7" cy="111.2" r="3.10"/><circle cx="952.8" cy="110.4" r="3.10"/><circle cx="953.9" cy="113.6" r="3.10"/><circle cx="955.0" cy="112.7" r="3.10"/><circle cx="956.1" cy="115.4" r="3.10"/><circle cx="957.2" cy="112.8" r="3.10"/><circle cx="958.3" cy="112.6" r="3.10"/><circle cx="959.4" cy="114.8" r="3.10"/><circle cx="960.5" cy="113.0" r="3.10"/><circle cx="961.6" cy="113.0" r="3.10"/><circle cx="962.7" cy="112.3" r="3.10"/><circle cx="963.7" cy="112.0" r="3.10"/><circle cx="964.8" cy="114.9" r="3.10"/><circle cx="965.9" cy="114.2" r="3.10"/><circle cx="967.0" cy="115.2" r="3.10"/><circle cx="968.1" cy="112.3" r="3.10"/><circle cx="969.2" cy="112.8" r="3.10"/><circle cx="970.3" cy="111.6" r="3.10"/><circle cx="971.4" cy="114.2" r="3.10"/><circle cx="972.5" cy="110.8" r="3.10"/><circle cx="973.6" cy="113.6" r="3.10"/><circle cx="974.7" cy="114.3" r="3.10"/><circle cx="975.8" cy="114.8" r="3.10"/><circle cx="976.9" cy="111.5" r="3.10"/><circle cx="978.0" cy="114.3" r="3.10"/><circle cx="979.1" cy="111.8" r="3.10"/><circle cx="980.2" cy="111.7" r="3.10"/><circle cx="981.2" cy="110.9" r="3.10"/><circle cx="982.3" cy="114.4" r="3.10"/><circle cx="983.4" cy="115.1" r="3.10"/><circle cx="984.5" cy="112.0" r="3.10"/><circle cx="985.6" cy="111.7" r="3.10"/><circle cx="986.7" cy="112.3" r="3.10"/><circle cx="987.8" cy="115.4" r="3.10"/><circle cx="988.9" cy="114.2" r="3.10"/><circle cx="990.0" cy="112.0" r="3.10"/><circle cx="991.1" cy="110.4" r="3.10"/><circle cx="992.2" cy="111.9" r="3.10"/><circle cx="993.3" cy="114.5" r="3.10"/><circle cx="994.4" cy="115.4" r="3.10"/><circle cx="995.5" cy="112.4" r="3.10"/><circle cx="996.6" cy="111.8" r="3.10"/><circle cx="997.7" cy="112.1" r="3.10"/><circle cx="998.8" cy="110.4" r="3.10"/><circle cx="999.8" cy="114.1" r="3.10"/><circle cx="1000.9" cy="111.3" r="3.10"/><circle cx="1002.0" cy="114.3" r="3.10"/><circle cx="1003.1" cy="110.4" r="3.10"/><circle cx="1004.2" cy="111.0" r="3.10"/><circle cx="1005.3" cy="113.2" r="3.10"/><circle cx="1006.4" cy="111.7" r="3.10"/><circle cx="1007.5" cy="113.9" r="3.10"/><circle cx="1008.6" cy="112.8" r="3.10"/><circle cx="1009.7" cy="111.2" r="3.10"/><circle cx="1010.8" cy="113.7" r="3.10"/><circle cx="1011.9" cy="114.0" r="3.10"/><circle cx="1013.0" cy="110.4" r="3.10"/><circle cx="1014.1" cy="115.4" r="3.10"/><circle cx="1015.2" cy="113.5" r="3.10"/><circle cx="1016.3" cy="113.9" r="3.10"/><circle cx="1017.4" cy="110.4" r="3.10"/><circle cx="1018.4" cy="111.8" r="3.10"/><circle cx="1019.5" cy="112.3" r="3.10"/><circle cx="1020.6" cy="114.3" r="3.10"/><circle cx="1021.7" cy="110.8" r="3.10"/><circle cx="1022.8" cy="111.6" r="3.10"/><circle cx="1023.9" cy="110.4" r="3.10"/><circle cx="1025.0" cy="112.5" r="3.10"/><circle cx="1026.1" cy="113.3" r="3.10"/><circle cx="1027.2" cy="110.4" r="3.10"/><circle cx="1028.3" cy="112.0" r="3.10"/><circle cx="1029.4" cy="113.5" r="3.10"/><circle cx="1030.5" cy="115.0" r="3.10"/><circle cx="1031.6" cy="113.7" r="3.10"/><circle cx="1032.7" cy="112.4" r="3.10"/><circle cx="1033.8" cy="111.2" r="3.10"/><circle cx="1034.9" cy="111.5" r="3.10"/><circle cx="1035.9" cy="111.9" r="3.10"/><circle cx="1037.0" cy="113.0" r="3.10"/><circle cx="1038.1" cy="112.7" r="3.10"/><circle cx="1039.2" cy="115.1" r="3.10"/><circle cx="1040.3" cy="113.2" r="3.10"/><circle cx="1041.4" cy="111.3" r="3.10"/><circle cx="1042.5" cy="115.0" r="3.10"/><circle cx="1043.6" cy="114.1" r="3.10"/><circle cx="1044.7" cy="112.9" r="3.10"/><circle cx="1045.8" cy="111.8" r="3.10"/><circle cx="1046.9" cy="110.4" r="3.10"/><circle cx="1048.0" cy="111.4" r="3.10"/><circle cx="1049.1" cy="114.1" r="3.10"/><circle cx="1050.2" cy="111.7" r="3.10"/><circle cx="1051.3" cy="111.0" r="3.10"/><circle cx="1052.4" cy="113.1" r="3.10"/><circle cx="1053.5" cy="113.1" r="3.10"/><circle cx="1054.5" cy="113.6" r="3.10"/><circle cx="1055.6" cy="113.7" r="3.10"/><circle cx="1056.7" cy="114.8" r="3.10"/><circle cx="1057.8" cy="111.6" r="3.10"/><circle cx="1058.9" cy="114.2" r="3.10"/><circle cx="1060.0" cy="111.4" r="3.10"/><circle cx="1061.1" cy="113.8" r="3.10"/><circle cx="1062.2" cy="113.1" r="3.10"/><circle cx="1063.3" cy="113.1" r="3.10"/><circle cx="1064.4" cy="114.2" r="3.10"/><circle cx="1065.5" cy="112.8" r="3.10"/><circle cx="1066.6" cy="114.4" r="3.10"/><circle cx="1067.7" cy="114.0" r="3.10"/><circle cx="1068.8" cy="113.0" r="3.10"/><circle cx="1069.9" cy="112.0" r="3.10"/><circle cx="1071.0" cy="111.7" r="3.10"/><circle cx="1072.1" cy="112.1" r="3.10"/><circle cx="1073.1" cy="112.5" r="3.10"/><circle cx="1074.2" cy="112.8" r="3.10"/><circle cx="1075.3" cy="115.4" r="3.10"/><circle cx="1076.4" cy="113.7" r="3.10"/><circle cx="1077.5" cy="113.9" r="3.10"/><circle cx="1078.6" cy="111.6" r="3.10"/><circle cx="1079.7" cy="111.8" r="3.10"/><circle cx="1080.8" cy="112.4" r="3.10"/><circle cx="1081.9" cy="113.1" r="3.10"/><circle cx="1083.0" cy="111.3" r="3.10"/><circle cx="1084.1" cy="115.1" r="3.10"/><circle cx="1085.2" cy="112.0" r="3.10"/><circle cx="1086.3" cy="114.3" r="3.10"/><circle cx="1087.4" cy="110.4" r="3.10"/><circle cx="1088.5" cy="112.8" r="3.10"/><circle cx="1089.6" cy="113.2" r="3.10"/><circle cx="1090.6" cy="113.1" r="3.10"/><circle cx="1091.7" cy="113.6" r="3.10"/><circle cx="1092.8" cy="113.2" r="3.10"/><circle cx="1093.9" cy="113.0" r="3.10"/><circle cx="1095.0" cy="110.4" r="3.10"/><circle cx="1096.1" cy="111.8" r="3.10"/><circle cx="1097.2" cy="110.4" r="3.10"/><circle cx="1098.3" cy="113.7" r="3.10"/><circle cx="1099.4" cy="113.2" r="3.10"/><circle cx="1100.5" cy="112.5" r="3.10"/><circle cx="1101.6" cy="111.7" r="3.10"/><circle cx="1102.7" cy="112.0" r="3.10"/><circle cx="1103.8" cy="115.4" r="3.10"/><circle cx="1104.9" cy="115.2" r="3.10"/><circle cx="1106.0" cy="112.7" r="3.10"/><circle cx="1107.1" cy="114.6" r="3.10"/><circle cx="1108.2" cy="110.6" r="3.10"/><circle cx="1109.2" cy="110.4" r="3.10"/><circle cx="1110.3" cy="112.1" r="3.10"/><circle cx="1111.4" cy="111.6" r="3.10"/><circle cx="1112.5" cy="112.0" r="3.10"/><circle cx="1113.6" cy="113.1" r="3.10"/><circle cx="1114.7" cy="115.4" r="3.10"/><circle cx="1115.8" cy="111.9" r="3.10"/><circle cx="1116.9" cy="112.9" r="3.10"/><circle cx="1118.0" cy="113.2" r="3.10"/><circle cx="1119.1" cy="112.8" r="3.10"/><circle cx="1120.2" cy="114.1" r="3.10"/><circle cx="1121.3" cy="115.3" r="3.10"/><circle cx="1122.4" cy="111.1" r="3.10"/><circle cx="1123.5" cy="113.0" r="3.10"/><circle cx="1124.6" cy="112.4" r="3.10"/><circle cx="1125.7" cy="113.3" r="3.10"/><circle cx="1126.8" cy="110.7" r="3.10"/><circle cx="1127.8" cy="110.4" r="3.10"/><circle cx="1128.9" cy="110.4" r="3.10"/><circle cx="1130.0" cy="113.5" r="3.10"/><circle cx="1131.1" cy="113.1" r="3.10"/><circle cx="1132.2" cy="112.9" r="3.10"/><circle cx="1133.3" cy="110.4" r="3.10"/><circle cx="1134.4" cy="112.3" r="3.10"/><circle cx="1135.5" cy="111.7" r="3.10"/><circle cx="1136.6" cy="110.8" r="3.10"/><circle cx="1137.7" cy="111.5" r="3.10"/><circle cx="1138.8" cy="113.8" r="3.10"/><circle cx="1139.9" cy="113.6" r="3.10"/><circle cx="1141.0" cy="112.8" r="3.10"/><circle cx="1142.1" cy="113.5" r="3.10"/><circle cx="1143.2" cy="112.0" r="3.10"/><circle cx="1144.3" cy="112.9" r="3.10"/><circle cx="1145.3" cy="112.9" r="3.10"/><circle cx="1146.4" cy="113.6" r="3.10"/><circle cx="1147.5" cy="112.7" r="3.10"/><circle cx="1148.6" cy="112.6" r="3.10"/><circle cx="1149.7" cy="112.6" r="3.10"/><circle cx="1150.8" cy="111.9" r="3.10"/><circle cx="1151.9" cy="115.4" r="3.10"/><circle cx="1153.0" cy="113.5" r="3.10"/><circle cx="1154.1" cy="113.4" r="3.10"/><circle cx="1155.2" cy="115.4" r="3.10"/><circle cx="1156.3" cy="114.8" r="3.10"/><circle cx="1157.4" cy="110.6" r="3.10"/><circle cx="1158.5" cy="113.8" r="3.10"/><circle cx="1159.6" cy="114.0" r="3.10"/><circle cx="1160.7" cy="115.4" r="3.10"/><circle cx="1161.8" cy="114.6" r="3.10"/><circle cx="1162.9" cy="113.9" r="3.10"/><circle cx="1163.9" cy="111.2" r="3.10"/><circle cx="1165.0" cy="111.6" r="3.10"/><circle cx="1166.1" cy="113.2" r="3.10"/><circle cx="1167.2" cy="113.5" r="3.10"/><circle cx="1168.3" cy="111.4" r="3.10"/><circle cx="1169.4" cy="112.3" r="3.10"/><circle cx="1170.5" cy="112.2" r="3.10"/><circle cx="1171.6" cy="112.9" r="3.10"/><circle cx="1172.7" cy="113.3" r="3.10"/><circle cx="1173.8" cy="112.4" r="3.10"/><circle cx="1174.9" cy="111.1" r="3.10"/><circle cx="1176.0" cy="114.5" r="3.10"/><circle cx="1177.1" cy="115.0" r="3.10"/><circle cx="1178.2" cy="112.7" r="3.10"/><circle cx="1179.3" cy="114.2" r="3.10"/><circle cx="1180.4" cy="113.4" r="3.10"/><circle cx="1181.4" cy="113.7" r="3.10"/><circle cx="1182.5" cy="113.5" r="3.10"/><circle cx="1183.6" cy="111.7" r="3.10"/><circle cx="1184.7" cy="113.6" r="3.10"/><circle cx="1185.8" cy="114.2" r="3.10"/><circle cx="1186.9" cy="111.5" r="3.10"/><circle cx="1188.0" cy="115.4" r="3.10"/><circle cx="1189.1" cy="115.4" r="3.10"/><circle cx="1190.2" cy="115.4" r="3.10"/><circle cx="1191.3" cy="115.4" r="3.10"/><circle cx="1192.4" cy="113.8" r="3.10"/><circle cx="1193.5" cy="112.3" r="3.10"/><circle cx="1194.6" cy="112.0" r="3.10"/><circle cx="1195.7" cy="111.7" r="3.10"/><circle cx="1196.8" cy="113.0" r="3.10"/><circle cx="1197.9" cy="112.8" r="3.10"/><circle cx="1199.0" cy="113.7" r="3.10"/><circle cx="1200.0" cy="110.4" r="3.10"/><circle cx="1201.1" cy="115.4" r="3.10"/><circle cx="1202.2" cy="115.4" r="3.10"/><circle cx="1203.3" cy="112.8" r="3.10"/><circle cx="1204.4" cy="113.7" r="3.10"/><circle cx="1205.5" cy="113.5" r="3.10"/><circle cx="1206.6" cy="113.2" r="3.10"/><circle cx="1207.7" cy="112.5" r="3.10"/><circle cx="1208.8" cy="112.6" r="3.10"/><circle cx="1209.9" cy="111.6" r="3.10"/><circle cx="1211.0" cy="113.0" r="3.10"/><circle cx="1212.1" cy="112.8" r="3.10"/><circle cx="1213.2" cy="113.2" r="3.10"/><circle cx="1214.3" cy="111.6" r="3.10"/><circle cx="1215.4" cy="112.9" r="3.10"/><circle cx="1216.5" cy="112.9" r="3.10"/><circle cx="1217.6" cy="113.6" r="3.10"/><circle cx="1218.6" cy="111.3" r="3.10"/><circle cx="1219.7" cy="113.4" r="3.10"/><circle cx="1220.8" cy="114.2" r="3.10"/><circle cx="1221.9" cy="113.6" r="3.10"/><circle cx="1223.0" cy="112.3" r="3.10"/><circle cx="1224.1" cy="112.1" r="3.10"/><circle cx="1225.2" cy="112.5" r="3.10"/><circle cx="1226.3" cy="113.8" r="3.10"/><circle cx="1227.4" cy="115.0" r="3.10"/><circle cx="1228.5" cy="112.6" r="3.10"/><circle cx="1229.6" cy="111.9" r="3.10"/><circle cx="1230.7" cy="113.3" r="3.10"/><circle cx="1231.8" cy="113.1" r="3.10"/><circle cx="1232.9" cy="111.5" r="3.10"/><circle cx="1234.0" cy="111.8" r="3.10"/><circle cx="1235.1" cy="112.7" r="3.10"/><circle cx="1236.1" cy="113.7" r="3.10"/><circle cx="1237.2" cy="111.1" r="3.10"/><circle cx="1238.3" cy="111.4" r="3.10"/><circle cx="1239.4" cy="113.5" r="3.10"/><circle cx="1240.5" cy="111.1" r="3.10"/><circle cx="1241.6" cy="113.0" r="3.10"/><circle cx="1242.7" cy="113.3" r="3.10"/><circle cx="1243.8" cy="112.6" r="3.10"/><circle cx="1244.9" cy="111.4" r="3.10"/><circle cx="1246.0" cy="112.7" r="3.10"/><circle cx="1247.1" cy="112.3" r="3.10"/><circle cx="1248.2" cy="113.3" r="3.10"/><circle cx="1249.3" cy="111.6" r="3.10"/><circle cx="1250.4" cy="114.3" r="3.10"/><circle cx="1251.5" cy="110.5" r="3.10"/><circle cx="1252.6" cy="112.6" r="3.10"/><circle cx="1253.7" cy="112.8" r="3.10"/><circle cx="1254.7" cy="114.1" r="3.10"/><circle cx="1255.8" cy="111.9" r="3.10"/><circle cx="1256.9" cy="113.6" r="3.10"/><circle cx="1258.0" cy="112.0" r="3.10"/><circle cx="1259.1" cy="113.8" r="3.10"/><circle cx="1260.2" cy="115.2" r="3.10"/><circle cx="1261.3" cy="112.2" r="3.10"/><circle cx="1262.4" cy="113.4" r="3.10"/><circle cx="1263.5" cy="111.5" r="3.10"/><circle cx="1264.6" cy="114.2" r="3.10"/><circle cx="1265.7" cy="114.5" r="3.10"/><circle cx="1266.8" cy="112.8" r="3.10"/><circle cx="1267.9" cy="111.2" r="3.10"/><circle cx="1269.0" cy="113.4" r="3.10"/><circle cx="1270.1" cy="114.4" r="3.10"/><circle cx="1271.2" cy="114.3" r="3.10"/><circle cx="1272.3" cy="113.9" r="3.10"/><circle cx="1273.3" cy="110.4" r="3.10"/><circle cx="1274.4" cy="111.8" r="3.10"/><circle cx="1275.5" cy="114.8" r="3.10"/><circle cx="1276.6" cy="111.1" r="3.10"/><circle cx="1277.7" cy="114.4" r="3.10"/><circle cx="1278.8" cy="115.4" r="3.10"/><circle cx="1279.9" cy="113.9" r="3.10"/><circle cx="1281.0" cy="114.4" r="3.10"/><circle cx="1282.1" cy="112.3" r="3.10"/><circle cx="1283.2" cy="111.1" r="3.10"/><circle cx="1284.3" cy="112.7" r="3.10"/><circle cx="1285.4" cy="112.5" r="3.10"/><circle cx="1286.5" cy="112.7" r="3.10"/><circle cx="1287.6" cy="113.8" r="3.10"/><circle cx="1288.7" cy="112.6" r="3.10"/><circle cx="1289.8" cy="113.1" r="3.10"/><circle cx="1290.8" cy="113.4" r="3.10"/><circle cx="1291.9" cy="112.8" r="3.10"/><circle cx="1293.0" cy="115.4" r="3.10"/><circle cx="1294.1" cy="113.4" r="3.10"/><circle cx="1295.2" cy="112.9" r="3.10"/><circle cx="1296.3" cy="112.5" r="3.10"/><circle cx="1297.4" cy="111.9" r="3.10"/><circle cx="1298.5" cy="114.7" r="3.10"/><circle cx="1299.6" cy="113.0" r="3.10"/><circle cx="1300.7" cy="111.3" r="3.10"/><circle cx="1301.8" cy="112.0" r="3.10"/><circle cx="1302.9" cy="112.6" r="3.10"/><circle cx="1304.0" cy="112.2" r="3.10"/><circle cx="1305.1" cy="114.3" r="3.10"/><circle cx="1306.2" cy="111.2" r="3.10"/><circle cx="1307.3" cy="113.5" r="3.10"/><circle cx="1308.4" cy="113.0" r="3.10"/><circle cx="1309.4" cy="111.2" r="3.10"/><circle cx="1310.5" cy="112.9" r="3.10"/><circle cx="1311.6" cy="112.7" r="3.10"/><circle cx="1312.7" cy="113.5" r="3.10"/><circle cx="1313.8" cy="112.2" r="3.10"/><circle cx="1314.9" cy="113.2" r="3.10"/><circle cx="1316.0" cy="110.5" r="3.10"/><circle cx="1317.1" cy="111.3" r="3.10"/><circle cx="1318.2" cy="113.9" r="3.10"/><circle cx="1319.3" cy="114.3" r="3.10"/><circle cx="1320.4" cy="112.8" r="3.10"/><circle cx="1321.5" cy="112.0" r="3.10"/><circle cx="1322.6" cy="114.3" r="3.10"/><circle cx="1323.7" cy="110.4" r="3.10"/><circle cx="1324.8" cy="111.7" r="3.10"/><circle cx="1325.9" cy="113.7" r="3.10"/><circle cx="1326.9" cy="113.7" r="3.10"/><circle cx="1328.0" cy="111.4" r="3.10"/><circle cx="1329.1" cy="110.4" r="3.10"/><circle cx="1330.2" cy="114.8" r="3.10"/><circle cx="1331.3" cy="113.0" r="3.10"/><circle cx="1332.4" cy="111.5" r="3.10"/><circle cx="1333.5" cy="112.9" r="3.10"/><circle cx="1334.6" cy="114.1" r="3.10"/><circle cx="1335.7" cy="110.4" r="3.10"/><circle cx="1336.8" cy="114.4" r="3.10"/><circle cx="1337.9" cy="113.8" r="3.10"/><circle cx="1339.0" cy="110.4" r="3.10"/><circle cx="1340.1" cy="113.9" r="3.10"/><circle cx="1341.2" cy="110.4" r="3.10"/><circle cx="1342.3" cy="114.4" r="3.10"/><circle cx="1343.4" cy="113.4" r="3.10"/><circle cx="1344.5" cy="115.4" r="3.10"/><circle cx="1345.5" cy="111.9" r="3.10"/><circle cx="1346.6" cy="112.8" r="3.10"/><circle cx="1347.7" cy="114.3" r="3.10"/><circle cx="1348.8" cy="111.9" r="3.10"/><circle cx="1349.9" cy="111.8" r="3.10"/><circle cx="1351.0" cy="112.3" r="3.10"/><circle cx="1352.1" cy="112.7" r="3.10"/><circle cx="1353.2" cy="111.3" r="3.10"/><circle cx="1354.3" cy="113.5" r="3.10"/><circle cx="1355.4" cy="113.6" r="3.10"/><circle cx="1356.5" cy="112.9" r="3.10"/><circle cx="1357.6" cy="115.2" r="3.10"/><circle cx="1358.7" cy="112.3" r="3.10"/><circle cx="1359.8" cy="114.6" r="3.10"/><circle cx="1360.9" cy="112.0" r="3.10"/><circle cx="1362.0" cy="113.9" r="3.10"/><circle cx="1363.1" cy="110.4" r="3.10"/><circle cx="1364.1" cy="113.1" r="3.10"/><circle cx="1365.2" cy="112.6" r="3.10"/><circle cx="1366.3" cy="112.1" r="3.10"/><circle cx="1367.4" cy="111.9" r="3.10"/><circle cx="1368.5" cy="112.3" r="3.10"/><circle cx="1369.6" cy="111.8" r="3.10"/><circle cx="1370.7" cy="110.4" r="3.10"/><circle cx="1371.8" cy="112.0" r="3.10"/><circle cx="1372.9" cy="112.0" r="3.10"/><circle cx="1374.0" cy="112.1" r="3.10"/><circle cx="1375.1" cy="111.3" r="3.10"/><circle cx="1376.2" cy="112.6" r="3.10"/><circle cx="1377.3" cy="113.9" r="3.10"/><circle cx="1378.4" cy="112.4" r="3.10"/><circle cx="1379.5" cy="112.1" r="3.10"/><circle cx="1380.6" cy="114.7" r="3.10"/><circle cx="1381.6" cy="114.2" r="3.10"/><circle cx="1382.7" cy="114.1" r="3.10"/><circle cx="1383.8" cy="114.4" r="3.10"/><circle cx="1384.9" cy="112.3" r="3.10"/><circle cx="1386.0" cy="112.6" r="3.10"/><circle cx="1387.1" cy="114.4" r="3.10"/><circle cx="1388.2" cy="112.0" r="3.10"/><circle cx="1389.3" cy="112.6" r="3.10"/><circle cx="1390.4" cy="113.3" r="3.10"/><circle cx="1391.5" cy="113.3" r="3.10"/><circle cx="1392.6" cy="112.4" r="3.10"/><circle cx="1393.7" cy="114.2" r="3.10"/><circle cx="1394.8" cy="112.6" r="3.10"/><circle cx="1395.9" cy="113.8" r="3.10"/><circle cx="1397.0" cy="114.3" r="3.10"/><circle cx="1398.1" cy="113.7" r="3.10"/><circle cx="1399.2" cy="113.8" r="3.10"/></g></g>
<line x1="140.2" y1="286.5" x2="675.5" y2="286.5" stroke="#ff0000" stroke-width="2.8"/>
<line x1="140.2" y1="299.8" x2="675.5" y2="299.8" stroke="#ff00ff" stroke-width="2.7"/>
<line x1="852.3" y1="137.2" x2="1401.2" y2="137.2" stroke="#ff0000" stroke-width="2.8"/>
<line x1="852.3" y1="112.7" x2="1401.2" y2="112.7" stroke="#ff00ff" stroke-width="3.1"/>
<rect x="140.20" y="44.00" width="535.30" height="363.00" fill="none" stroke="#000" stroke-width="3.8"/>
<path d="M140.20 407.00V414.10M140.20 44.00V36.90M177.78 407.00V410.70M177.78 44.00V40.30M215.36 407.00V414.10M215.36 44.00V36.90M252.94 407.00V410.70M252.94 44.00V40.30M290.51 407.00V414.10M290.51 44.00V36.90M328.09 407.00V410.70M328.09 44.00V40.30M365.67 407.00V414.10M365.67 44.00V36.90M403.25 407.00V410.70M403.25 44.00V40.30M440.83 407.00V414.10M440.83 44.00V36.90M478.41 407.00V410.70M478.41 44.00V40.30M515.99 407.00V414.10M515.99 44.00V36.90M553.56 407.00V410.70M553.56 44.00V40.30M591.14 407.00V414.10M591.14 44.00V36.90M628.72 407.00V410.70M628.72 44.00V40.30M666.30 407.00V414.10M666.30 44.00V36.90" stroke="#000" stroke-width="3.3" fill="none"/>
<path d="M140.20 44.00H133.10M675.50 44.00H682.60M140.20 116.60H133.10M675.50 116.60H682.60M140.20 189.20H133.10M675.50 189.20H682.60M140.20 261.80H133.10M675.50 261.80H682.60M140.20 334.40H133.10M675.50 334.40H682.60M140.20 407.00H133.10M675.50 407.00H682.60M140.20 80.30H136.10M675.50 80.30H679.60M140.20 152.90H136.10M675.50 152.90H679.60M140.20 225.50H136.10M675.50 225.50H679.60M140.20 298.10H136.10M675.50 298.10H679.60M140.20 370.70H136.10M675.50 370.70H679.60" stroke="#000" stroke-width="3.3" fill="none"/>
<rect x="852.30" y="44.00" width="548.90" height="363.00" fill="none" stroke="#000" stroke-width="3.8"/>
<path d="M852.30 407.00V414.10M852.30 44.00V36.90M890.85 407.00V410.70M890.85 44.00V40.30M929.40 407.00V414.10M929.40 44.00V36.90M967.95 407.00V410.70M967.95 44.00V40.30M1006.50 407.00V414.10M1006.50 44.00V36.90M1045.05 407.00V410.70M1045.05 44.00V40.30M1083.60 407.00V414.10M1083.60 44.00V36.90M1122.15 407.00V410.70M1122.15 44.00V40.30M1160.70 407.00V414.10M1160.70 44.00V36.90M1199.25 407.00V410.70M1199.25 44.00V40.30M1237.80 407.00V414.10M1237.80 44.00V36.90M1276.35 407.00V410.70M1276.35 44.00V40.30M1314.90 407.00V414.10M1314.90 44.00V36.90M1353.45 407.00V410.70M1353.45 44.00V40.30M1392.00 407.00V414.10M1392.00 44.00V36.90" stroke="#000" stroke-width="3.3" fill="none"/>
<path d="M852.30 44.00H845.20M1401.20 44.00H1408.30M852.30 116.60H845.20M1401.20 116.60H1408.30M852.30 189.20H845.20M1401.20 189.20H1408.30M852.30 261.80H845.20M1401.20 261.80H1408.30M852.30 334.40H845.20M1401.20 334.40H1408.30M852.30 407.00H845.20M1401.20 407.00H1408.30M852.30 80.30H848.20M1401.20 80.30H1405.30M852.30 152.90H848.20M1401.20 152.90H1405.30M852.30 225.50H848.20M1401.20 225.50H1405.30M852.30 298.10H848.20M1401.20 298.10H1405.30M852.30 370.70H848.20M1401.20 370.70H1405.30" stroke="#000" stroke-width="3.3" fill="none"/>
<text class="tk" transform="translate(126.2 55.3) scale(0.983 1)" text-anchor="end">52.00</text>
<text class="tk" transform="translate(126.2 127.9) scale(0.983 1)" text-anchor="end">48.00</text>
<text class="tk" transform="translate(126.2 200.5) scale(0.983 1)" text-anchor="end">44.00</text>
<text class="tk" transform="translate(126.2 273.1) scale(0.983 1)" text-anchor="end">40.00</text>
<text class="tk" transform="translate(126.2 345.7) scale(0.983 1)" text-anchor="end">36.00</text>
<text class="tk" transform="translate(126.2 418.3) scale(0.983 1)" text-anchor="end">32.00</text>
<text class="tk" transform="translate(835.2 55.3) scale(0.983 1)" text-anchor="end">1.00</text>
<text class="tk" transform="translate(835.2 127.9) scale(0.983 1)" text-anchor="end">0.00</text>
<text class="tk" transform="translate(835.2 200.5) scale(0.983 1)" text-anchor="end">-1.00</text>
<text class="tk" transform="translate(835.2 273.1) scale(0.983 1)" text-anchor="end">-2.00</text>
<text class="tk" transform="translate(835.2 345.7) scale(0.983 1)" text-anchor="end">-3.00</text>
<text class="tk" transform="translate(835.2 418.3) scale(0.983 1)" text-anchor="end">-4.00</text>
<text class="tk" transform="translate(140.2 445) scale(0.983 1)" text-anchor="middle">0</text>
<text class="tk" transform="translate(215.4 445) scale(0.983 1)" text-anchor="middle">100</text>
<text class="tk" transform="translate(290.5 445) scale(0.983 1)" text-anchor="middle">200</text>
<text class="tk" transform="translate(365.7 445) scale(0.983 1)" text-anchor="middle">300</text>
<text class="tk" transform="translate(440.8 445) scale(0.983 1)" text-anchor="middle">400</text>
<text class="tk" transform="translate(516.0 445) scale(0.983 1)" text-anchor="middle">500</text>
<text class="tk" transform="translate(591.1 445) scale(0.983 1)" text-anchor="middle">600</text>
<text class="tk" transform="translate(666.3 445) scale(0.983 1)" text-anchor="middle">700</text>
<text class="tk" transform="translate(852.3 445) scale(0.983 1)" text-anchor="middle">0</text>
<text class="tk" transform="translate(929.4 445) scale(0.983 1)" text-anchor="middle">100</text>
<text class="tk" transform="translate(1006.5 445) scale(0.983 1)" text-anchor="middle">200</text>
<text class="tk" transform="translate(1083.6 445) scale(0.983 1)" text-anchor="middle">300</text>
<text class="tk" transform="translate(1160.7 445) scale(0.983 1)" text-anchor="middle">400</text>
<text class="tk" transform="translate(1237.8 445) scale(0.983 1)" text-anchor="middle">500</text>
<text class="tk" transform="translate(1314.9 445) scale(0.983 1)" text-anchor="middle">600</text>
<text class="tk" transform="translate(1392.0 445) scale(0.983 1)" text-anchor="middle">700</text>
<text class="tk" transform="translate(137.5 33.9) scale(0.983 1)">x10<tspan font-size="18px" dx="0.2" dy="-14.8">-4</tspan></text>
<text class="tk" transform="translate(852 31.9) scale(0.983 1)">x10<tspan font-size="18px" dx="0.6" dy="-14.4">-4</tspan></text>
<text class="ax" x="409.4" y="488" text-anchor="middle">Frame n.</text>
<text class="ax" x="1128.4" y="488" text-anchor="middle">Frame n.</text>
<text class="ax" transform="translate(27.8 280.0) rotate(-90)">A (a.u.)</text>
<text class="ax" transform="translate(746.6 286.6) rotate(-90)">B (a.u.<tspan font-size="19.5px" dy="-15.8">2</tspan><tspan dy="15.8">)</tspan></text>
<text class="ser" transform="translate(16.0 38) scale(1.05 1)" font-size="40px">a</text>
<text class="ser" transform="translate(735.0 38) scale(1.05 1)" font-size="40px">b</text>
<line x1="448.6" y1="129.3" x2="389.5" y2="274.5" stroke="#ff0000" stroke-width="2.2"/>
<polygon points="385.2,285.0 385.0,271.6 394.7,275.6" fill="#ff0000"/>
<line x1="396.2" y1="364.2" x2="430.5" y2="311.3" stroke="#ff00ff" stroke-width="2.2"/>
<polygon points="436.6,301.8 434.3,315.0 425.6,309.3" fill="#ff00ff"/>
<line x1="1033.8" y1="74.2" x2="1118.6" y2="105.3" stroke="#ff00ff" stroke-width="2.2"/>
<polygon points="1129.2,109.2 1115.9,109.8 1119.4,100.1" fill="#ff00ff"/>
<line x1="986.5" y1="193.8" x2="1057.3" y2="147.5" stroke="#ff0000" stroke-width="2.2"/>
<polygon points="1066.8,141.3 1059.4,152.4 1053.7,143.7" fill="#ff0000"/>
<text class="an" x="391.2" y="127.4" fill="#ff0000" style="fill:#ff0000" textLength="207" lengthAdjust="spacingAndGlyphs">Mean value = 38.65</text>
<text class="an" x="329.6" y="378.4" style="fill:#ff00ff" textLength="225" lengthAdjust="spacingAndGlyphs">Median value = 37.91</text>
<text class="an" x="950.2" y="71.2" style="fill:#ff00ff" textLength="216" lengthAdjust="spacingAndGlyphs">Median value = 0.05</text>
<text class="an" x="912.4" y="208.8" style="fill:#ff0000" textLength="203" lengthAdjust="spacingAndGlyphs">Mean value = -0.29</text>
</svg></body></html>
